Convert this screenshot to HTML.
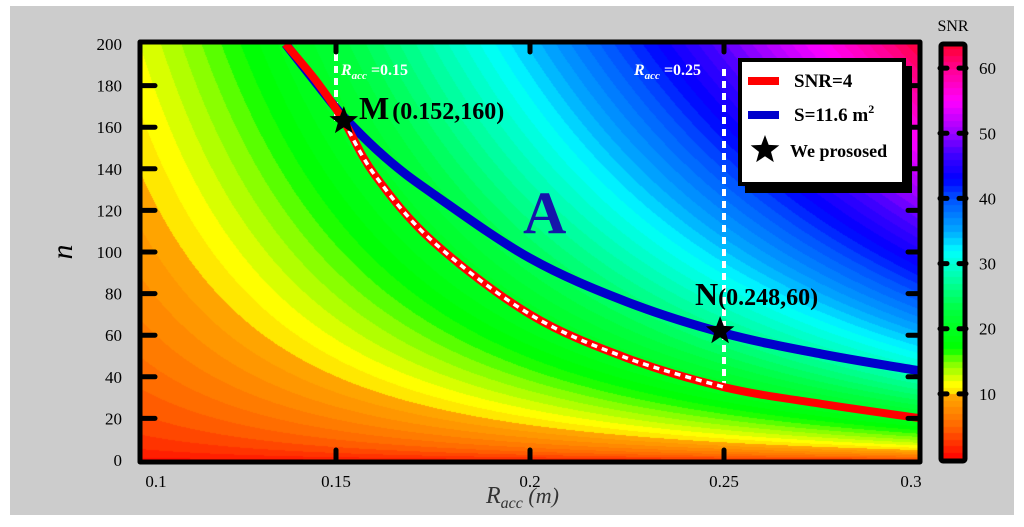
<!DOCTYPE html>
<html><head><meta charset="utf-8"><style>
html,body{margin:0;padding:0;background:#fff;}
#wrap{position:relative;width:1024px;height:527px;overflow:hidden;}
#bg{position:absolute;left:10px;top:6px;width:1004px;height:509px;background:#cccccc;}
canvas{position:absolute;left:0;top:0;}
svg{position:absolute;left:0;top:0;font-family:"Liberation Serif","Times New Roman","DejaVu Serif",serif;}
</style></head><body>
<div id="wrap">
<div id="bg"></div>
<canvas id="cv" width="1024" height="527"></canvas>
<svg id="sv" width="1024" height="527"></svg>
</div>
<script>
// ---- data ----
const xTicks = [0.1, 0.15, 0.2, 0.25, 0.3];
const xTickLabels = ["0.1", "0.15", "0.2", "0.25", "0.3"];
const yTicks = [0, 20, 40, 60, 80, 100, 120, 140, 160, 180, 200];
const cbTicks = [10, 20, 30, 40, 50, 60];
const snrScale = [27.1];            // SNR = k * R^1.5 * n^0.5
const snrExpR = [1.5];
const snrExpN = [0.5];
const cbRange = [0, 63.4];
const redR = [0.137, 0.145, 0.152, 0.16, 0.175, 0.2, 0.225, 0.25, 0.275, 0.301];
const redN = [200, 182, 163, 137, 105, 70, 49, 35, 27, 20];
const blueR = [0.137, 0.145, 0.152, 0.163, 0.175, 0.2, 0.225, 0.25, 0.275, 0.3];
const blueN = [200, 181, 165, 145, 128, 97, 76, 61, 51, 43];
const starR = [0.152, 0.249];
const starN = [163, 62];
const cmapV = [0, 5, 9.9, 10, 11.5, 15, 17, 23, 32, 35, 40, 43, 47, 50, 55, 60, 63.4];
const cmapC = ["#ff0000","#ff6600","#ffaa00","#ffdd00","#ffff00","#77ff00","#00ff00","#00ff40","#00ffff","#00aaff","#0050ff","#0000ff","#4400ff","#9900ff","#ff00ff","#ff0090","#ff0030"];

// ---- axes ----
const X0 = 142, X1 = 918, Y0 = 460, Y1 = 44;
const xs = r => X0 + (r - 0.1) / 0.2 * (X1 - X0);
const ys = n => Y0 - n / 200 * (Y0 - Y1);
const CBX0 = 943, CBX1 = 963, CBY0 = 459, CBY1 = 46;
const cs = v => CBY0 - (v - cbRange[0]) / (cbRange[1] - cbRange[0]) * (CBY0 - CBY1);
const FONT = '"Liberation Serif", "Times New Roman", "DejaVu Serif", serif';

function hex(c){return [parseInt(c.slice(1,3),16),parseInt(c.slice(3,5),16),parseInt(c.slice(5,7),16)];}
const cmapRGB = cmapC.map(hex);
function cmap(v){
  if (v <= cmapV[0]) return cmapRGB[0];
  for (let i=1;i<cmapV.length;i++){
    if (v <= cmapV[i]){
      const t=(v-cmapV[i-1])/(cmapV[i]-cmapV[i-1]);
      const a=cmapRGB[i-1], b=cmapRGB[i];
      return [a[0]+(b[0]-a[0])*t, a[1]+(b[1]-a[1])*t, a[2]+(b[2]-a[2])*t];
    }
  }
  return cmapRGB[cmapRGB.length-1];
}
function snr(r,n){ return snrScale[0]*Math.pow(r,snrExpR[0])*Math.pow(Math.max(n,0),snrExpN[0]); }

// ---- field ----
const cv=document.getElementById('cv'), ctx=cv.getContext('2d');
const img=ctx.createImageData(1024,527);
for(let py=Y1;py<=Y0;py++){
  for(let px=X0;px<=X1;px++){
    const r=0.1+(px-X0)/(X1-X0)*0.2, n=(Y0-py)/(Y0-Y1)*200;
    const v=Math.floor(snr(r,n))+0.5;
    const c=cmap(v); const k=(py*1024+px)*4;
    img.data[k]=c[0];img.data[k+1]=c[1];img.data[k+2]=c[2];img.data[k+3]=255;
  }
}
for(let py=CBY1;py<=CBY0;py++){
  const v=Math.floor(cbRange[0]+(CBY0-py)/(CBY0-CBY1)*(cbRange[1]-cbRange[0]))+0.5;
  const c=cmap(v);
  for(let px=CBX0;px<=CBX1;px++){const k=(py*1024+px)*4;img.data[k]=c[0];img.data[k+1]=c[1];img.data[k+2]=c[2];img.data[k+3]=255;}
}
ctx.putImageData(img,0,0);

// ---- overlay ----
const sv=document.getElementById('sv'), NS='http://www.w3.org/2000/svg';
function mk(tag,attrs,parent){const e=document.createElementNS(NS,tag);for(const k in attrs)e.setAttribute(k,attrs[k]);if(tag==='text'){e.style.fontFamily=FONT;}(parent||sv).appendChild(e);return e;}
function pathFrom(R,N){
  const P=R.map((r,i)=>[xs(r),ys(N[i])]);
  let d='M'+P[0][0]+','+P[0][1];
  for(let i=0;i<P.length-1;i++){
    const p0=P[Math.max(i-1,0)],p1=P[i],p2=P[i+1],p3=P[Math.min(i+2,P.length-1)];
    const c1=[p1[0]+(p2[0]-p0[0])/6,p1[1]+(p2[1]-p0[1])/6],c2=[p2[0]-(p3[0]-p1[0])/6,p2[1]-(p3[1]-p1[1])/6];
    d+=' C'+c1+' '+c2+' '+p2;
  }
  return d;
}
function star(cx,cy,R){let pts=[];for(let i=0;i<10;i++){const a=-Math.PI/2+i*Math.PI/5,rr=i%2?R*0.42:R;pts.push((cx+rr*Math.cos(a)).toFixed(1)+','+(cy+rr*Math.sin(a)).toFixed(1));}return pts.join(' ');}

const defs=mk('defs',{});const cp=mk('clipPath',{id:'pc'},defs);mk('rect',{x:X0,y:Y1-4,width:X1-X0+6,height:Y0-Y1+4},cp);

let e;
e=mk('line',{x1:xs(0.15),x2:xs(0.15),y1:Y1+10,y2:ys(starN[0]),stroke:'#fff','stroke-width':4,'stroke-dasharray':'7,5'});

e=mk('line',{x1:xs(0.25),x2:xs(0.25),y1:Y1+25,y2:ys(35),stroke:'#fff','stroke-width':4,'stroke-dasharray':'7,5'});


e=mk('path',{d:pathFrom(blueR,blueN),fill:'none',stroke:'#0000cc','stroke-width':9,'clip-path':'url(#pc)'});

e=mk('path',{d:pathFrom(redR,redN),fill:'none',stroke:'#ff0000','stroke-width':8});

const sub=[],subN=[];redR.forEach((r,i)=>{if(r>=0.152&&r<=0.25){sub.push(r);subN.push(redN[i]);}});
e=mk('path',{d:pathFrom(sub,subN),fill:'none',stroke:'#fff','stroke-width':3.5,'stroke-dasharray':'6,5'});


e=mk('rect',{x:X0-2,y:Y1-2,width:X1-X0+4,height:Y0-Y1+4,fill:'none',stroke:'#000','stroke-width':5,'stroke-linejoin':'round'});


xTicks.forEach((t,i)=>{
  const x=xs(t);
  if(i>0&&i<xTicks.length-1){
    e=mk('line',{x1:x,x2:x,y1:Y0,y2:Y0-10,stroke:'#000','stroke-width':5,'stroke-linecap':'round'});
    
    e=mk('line',{x1:x,x2:x,y1:Y1,y2:Y1+8,stroke:'#000','stroke-width':5,'stroke-linecap':'round'});
    
  }
  const lx=i==0?x+14:(i==xTicks.length-1?x-7:x);
  e=mk('text',{x:lx,y:487,'font-size':17,'text-anchor':'middle',fill:'#000'});e.textContent=xTickLabels[i];
  
});
yTicks.forEach((t,i)=>{
  const y=ys(t);
  if(i>0&&i<yTicks.length-1){
    e=mk('line',{x1:X0,x2:X0+13,y1:y,y2:y,stroke:'#000','stroke-width':5,'stroke-linecap':'round'});
    
    e=mk('line',{x1:X1,x2:X1-10,y1:y,y2:y,stroke:'#000','stroke-width':5,'stroke-linecap':'round'});
    
  }
  e=mk('text',{x:122,y:y+6,'font-size':17,'text-anchor':'end',fill:'#000'});e.textContent=String(t);
  
});

e=mk('text',{x:72,y:252,'font-size':30,'font-style':'italic','text-anchor':'middle',fill:'#000',transform:'rotate(-90 72 252)'});e.textContent='n';

e=mk('text',{x:486,y:503,'font-size':24,'font-style':'italic',fill:'#333'});
e.innerHTML='R<tspan font-size="16" dy="5">acc</tspan><tspan dy="-5" font-size="22">  (m)</tspan>';


e=mk('text',{x:341,y:75,'font-size':16,'font-weight':'bold',fill:'#fff'});
e.innerHTML='<tspan font-style="italic">R</tspan><tspan font-style="italic" font-size="11" dy="4">acc</tspan><tspan dy="-4">   =0.15</tspan>';

e=mk('text',{x:634,y:75,'font-size':16,'font-weight':'bold',fill:'#fff'});
e.innerHTML='<tspan font-style="italic">R</tspan><tspan font-style="italic" font-size="11" dy="4">acc</tspan><tspan dy="-4">   =0.25</tspan>';

e=mk('text',{x:359,y:119,'font-size':24,'font-weight':'bold',fill:'#000'});
e.innerHTML='<tspan font-size="32">M</tspan><tspan dx="3">(0.152,160)</tspan>';

e=mk('text',{x:695,y:305,'font-size':24,'font-weight':'bold',fill:'#000'});
e.innerHTML='<tspan font-size="32">N</tspan>(0.248,60)';

e=mk('text',{x:523,y:233,'font-size':60,'font-weight':'bold',fill:'#1515aa'});e.textContent='A';

starR.forEach((r,i)=>{
  e=mk('polygon',{points:star(xs(r),ys(starN[i]),15),fill:'#000'});
  
});

const lg=mk('g',{});
mk('rect',{x:745,y:66,width:167,height:127,fill:'#000'},lg);
mk('rect',{x:740,y:60,width:164,height:124,fill:'#fff',stroke:'#000','stroke-width':4},lg);
e=mk('rect',{x:748,y:77,width:31,height:8,fill:'#ff0000'},lg);
e=mk('text',{x:794,y:87,'font-size':19,'font-weight':'bold',fill:'#000'},lg);e.textContent='SNR=4';

e=mk('rect',{x:748,y:111,width:31,height:8,fill:'#0000cc'},lg);
e=mk('text',{x:794,y:121,'font-size':19,'font-weight':'bold',fill:'#000'},lg);e.innerHTML='S=11.6 m<tspan font-size="12" dy="-8">2</tspan>';

e=mk('polygon',{points:star(765,150,15),fill:'#000'},lg);
e=mk('text',{x:790,y:157,'font-size':18,'font-weight':'bold',fill:'#000'},lg);e.textContent='We prososed';


e=mk('rect',{x:CBX0-2,y:CBY1-2,width:CBX1-CBX0+4,height:CBY0-CBY1+4,fill:'none',stroke:'#000','stroke-width':5,rx:2});

cbTicks.forEach(t=>{
  const y=cs(t);
  e=mk('line',{x1:CBX0-3,x2:CBX0+4,y1:y,y2:y,stroke:'#000','stroke-width':5,'stroke-linecap':'round'});
  
  e=mk('line',{x1:CBX1-4,x2:CBX1+3,y1:y,y2:y,stroke:'#000','stroke-width':5,'stroke-linecap':'round'});
  
  e=mk('text',{x:979,y:y+6,'font-size':17,fill:'#000'});e.textContent=String(t);
  
});
e=mk('text',{x:953,y:31,'font-size':16,'text-anchor':'middle',fill:'#000'});e.textContent='SNR';

</script>
</body></html>
